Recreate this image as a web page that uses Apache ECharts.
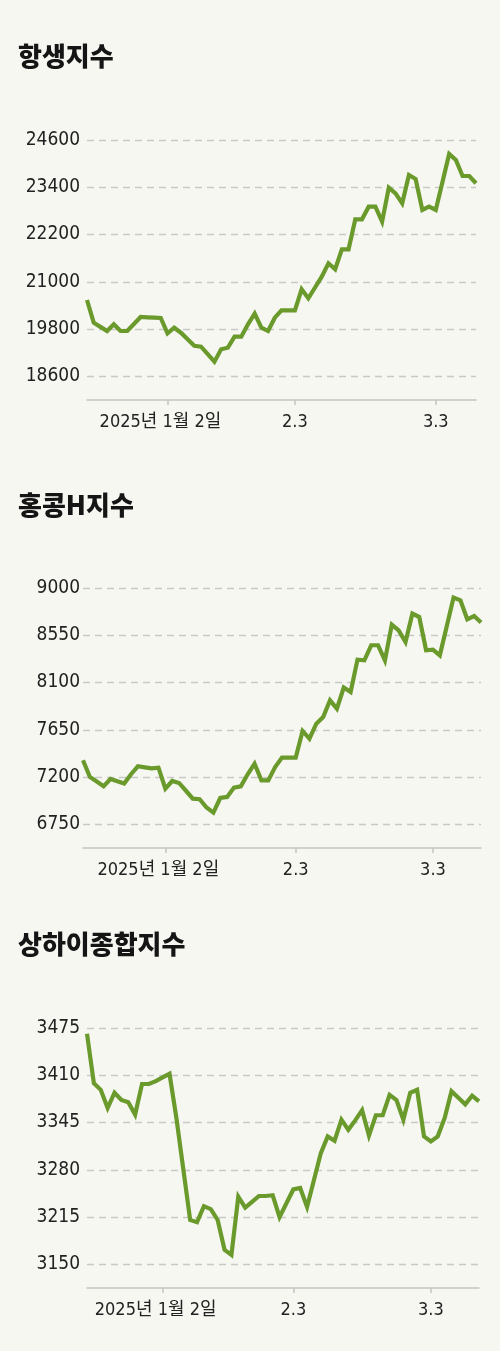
<!DOCTYPE html>
<html>
<head>
<meta charset="utf-8">
<script src="https://cdn.jsdelivr.net/npm/echarts@6/dist/echarts.min.js"></script>
<style>
  html, body { margin: 0; padding: 0; background: #f7f7f2; }
  #chart { width: 500px; height: 1351px; }
</style>
</head>
<body>
<div id="chart"></div>
<script>
// ---- data ----
const titles = ['항생지수', '홍콩H지수', '상하이종합지수'];
const xTickLabels = ['2025년 1월 2일', '2.3', '3.3'];

// Hong Kong trading days (Dec 12, 2024 - Mar 12, 2025)
const hkDates = [
  '12.12','12.13','12.16','12.17','12.18','12.19','12.20','12.23','12.24','12.27','12.30','12.31',
  '1.2','1.3','1.6','1.7','1.8','1.9','1.10','1.13','1.14','1.15','1.16','1.17','1.20','1.21','1.22','1.23','1.24','1.27','1.28',
  '2.3','2.4','2.5','2.6','2.7','2.10','2.11','2.12','2.13','2.14','2.17','2.18','2.19','2.20','2.21','2.24','2.25','2.26','2.27','2.28',
  '3.3','3.4','3.5','3.6','3.7','3.10','3.11','3.12'
];
// Shanghai trading days (Dec 12, 2024 - Mar 12, 2025)
const shDates = [
  '12.12','12.13','12.16','12.17','12.18','12.19','12.20','12.23','12.24','12.25','12.26','12.27','12.30','12.31',
  '1.2','1.3','1.6','1.7','1.8','1.9','1.10','1.13','1.14','1.15','1.16','1.17','1.20','1.21','1.22','1.23','1.24','1.27',
  '2.5','2.6','2.7','2.10','2.11','2.12','2.13','2.14','2.17','2.18','2.19','2.20','2.21','2.24','2.25','2.26','2.27','2.28',
  '3.3','3.4','3.5','3.6','3.7','3.10','3.11','3.12'
];

const hangSeng = [
  20538, 19962, 19856, 19751, 19922, 19751, 19751, 19929, 20107, 20099, 20090, 20081,
  19693, 19835, 19708, 19543, 19378, 19353, 19163, 18972, 19287, 19328, 19607, 19607, 19922, 20191, 19835, 19751, 20089, 20277, 20277,
  20277, 20810, 20582, 20856, 21130, 21470, 21318, 21825, 21825, 22587, 22587, 22907, 22907, 22526, 23389, 23247, 22993, 23712, 23610, 22823,
  22907, 22823, 23534, 24245, 24092, 23686, 23686, 23501
];
const hscei = [
  7360, 7201, 7157, 7112, 7182, 7160, 7138, 7227, 7303, 7293, 7284, 7290,
  7090, 7163, 7144, 7070, 6995, 6989, 6910, 6862, 7001, 7011, 7100, 7112, 7227, 7328, 7169, 7169, 7296, 7386, 7386,
  7386, 7639, 7566, 7709, 7772, 7931, 7852, 8052, 8010, 8318, 8312, 8455, 8455, 8312, 8652, 8597, 8486, 8756, 8724, 8407,
  8414, 8359, 8634, 8909, 8883, 8702, 8733, 8671
];
const shanghai = [
  3467, 3399, 3390, 3365, 3386, 3376, 3373, 3356, 3398, 3398, 3402, 3407, 3412, 3351,
  3281, 3211, 3208, 3230, 3226, 3211, 3170, 3163, 3243, 3228, 3236, 3244, 3244, 3245, 3215, 3234, 3253, 3255,
  3229, 3266, 3303, 3326, 3320, 3349, 3335, 3348, 3362, 3327, 3355, 3355, 3383, 3376, 3349, 3386, 3390, 3326,
  3319, 3326, 3351, 3388, 3379, 3370, 3382, 3374
];

const yTicks1 = [18600, 19800, 21000, 22200, 23400, 24600];
const yTicks2 = [6750, 7200, 7650, 8100, 8550, 9000];
const yTicks3 = [3150, 3215, 3280, 3345, 3410, 3475];

// category positions where the x ticks/labels sit
const xTickIdx1 = [12, 31, 52];
const xTickIdx2 = [12, 31, 51];
const xTickIdx3 = [11, 30, 50];

// ---- chart ----
const numFont = "'DejaVu Sans Condensed', 'Noto Sans CJK KR', sans-serif";
const GREEN = '#6a9a2c';
const GRID_C = '#c8c8c6';
const AXIS_C = '#c4c4c2';

const grids = [
  { left: 87, width: 389, top: 140, height: 260 },
  { left: 83, width: 398, top: 588, height: 260 },
  { left: 87, width: 392, top: 1028, height: 260 }
];
const titleTops = [38, 487, 926];

function xAxis(gi, dates, idx) {
  return {
    type: 'category', gridIndex: gi, data: dates, boundaryGap: false,
    axisLine: { lineStyle: { color: AXIS_C, width: 1.5 } },
    axisTick: { interval: (i) => idx.includes(i), length: 5, lineStyle: { color: AXIS_C, width: 1.5 } },
    axisLabel: {
      interval: (i) => idx.includes(i),
      margin: 13,
      color: '#222',
      fontSize: 18,
      fontFamily: numFont,
      formatter: (v, i) => {
        const k = idx.indexOf(i);
        if (k < 0) return '';
        return k === 0 ? '{a|' + xTickLabels[0] + '}' : xTickLabels[k];
      },
      rich: { a: { fontSize: 18, fontFamily: numFont, color: '#222', padding: [0, 14, 0, 0] } }
    },
    splitLine: { show: false }
  };
}

function yAxis(gi, ticks, margin) {
  const step = (ticks[1] - ticks[0]) / 2;
  const min = ticks[0] - step;
  return {
    type: 'value', gridIndex: gi, min: min, max: ticks[ticks.length - 1], interval: step,
    axisLine: { show: false }, axisTick: { show: false },
    axisLabel: {
      margin: margin, color: '#222', fontSize: 19, fontFamily: numFont,
      formatter: (v) => (ticks.some(t => Math.abs(t - v) < 1e-6) ? String(Math.round(v)) : '')
    },
    splitLine: { show: true, showMinLine: true, lineStyle: { color: ['rgba(0,0,0,0)', GRID_C], type: [7, 5], width: 1.3 } }
  };
}

function series(gi, data) {
  return {
    type: 'line', xAxisIndex: gi, yAxisIndex: gi, data: data,
    showSymbol: false, symbol: 'none', animation: false,
    lineStyle: { color: GREEN, width: 4.2, join: 'miter' }
  };
}

const chart = echarts.init(document.getElementById('chart'), null, { renderer: 'canvas' });
chart.setOption({
  backgroundColor: '#f7f7f2',
  animation: false,
  title: titles.map((t, i) => ({
    text: t, left: 13, top: titleTops[i],
    textStyle: { fontFamily: "'Noto Sans CJK KR', sans-serif", fontWeight: 900, fontSize: 26, color: '#151515' }
  })),
  grid: grids,
  xAxis: [xAxis(0, hkDates, xTickIdx1), xAxis(1, hkDates, xTickIdx2), xAxis(2, shDates, xTickIdx3)],
  yAxis: [yAxis(0, yTicks1, 7), yAxis(1, yTicks2, 3), yAxis(2, yTicks3, 7)],
  series: [series(0, hangSeng), series(1, hscei), series(2, shanghai)]
});
</script>
</body>
</html>
